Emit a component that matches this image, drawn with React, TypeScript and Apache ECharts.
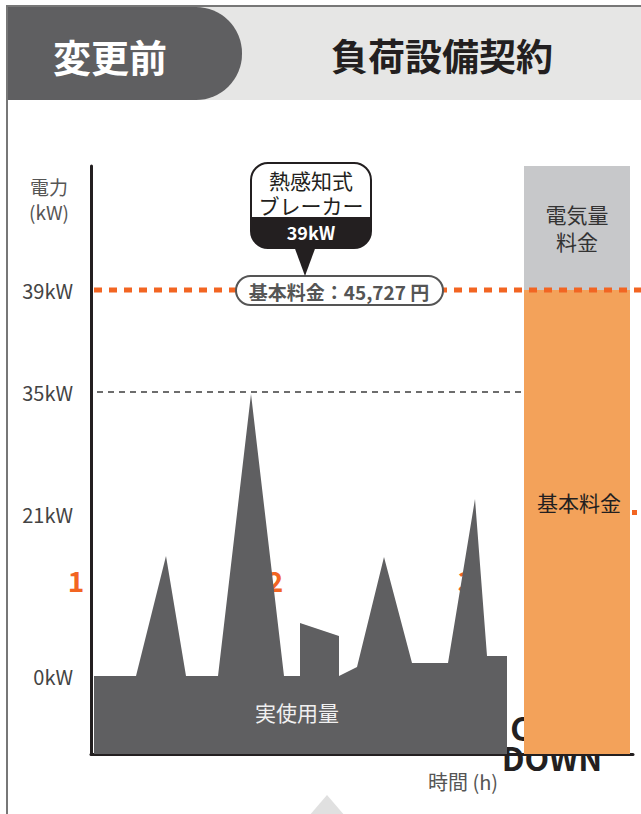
import React, { useEffect, useRef } from 'react';
import * as echarts from 'echarts';

// ---- data (chart units: x = time position, y = drawn power level) ----
const usageX = [3, 45, 75, 95, 127, 160, 193, 209, 209, 248, 248, 266, 293, 321, 357, 384, 396, 416];
const usageY = [78, 78, 198, 78, 78, 360, 78, 78, 131, 118, 78, 87, 197, 91, 91, 255, 98, 98];
const tickValues = [78, 240, 362, 464];
const tickLabels = ['0kW', '21kW', '35kW', '39kW'];
const barX = [486];
const basicChargeLevel = [464];
const energyChargeLevel = [124];
const peakLabels = ['1', '2', '3'];
const titleLeft = '変更前';
const titleRight = '負荷設備契約';
const breakerLines = ['熱感知式', 'ブレーカー'];
const breakerValue = '39kW';
const basicChargeText = '基本料金：45,727 円';

const FONT = '"Noto Sans CJK JP", "Open Sans", sans-serif';
const ORANGE = '#f26522';
const DARK = '#5f5f61';

export default function App() {
  const ref = useRef<HTMLDivElement>(null);
  useEffect(() => {
    const chart = echarts.init(ref.current!, null, { renderer: 'svg' });
    const labelMap: Record<number, string> = {};
    tickValues.forEach((v, i) => (labelMap[v] = tickLabels[i]));
    chart.setOption({
      animation: false,
      backgroundColor: '#ffffff',
      textStyle: { fontFamily: FONT },
      grid: { left: 91, top: 166, width: 542, height: 588, containLabel: false },
      xAxis: {
        type: 'value', min: 0, max: 542,
        axisLine: { show: true, lineStyle: { color: '#231f20', width: 3 } },
        axisTick: { show: false }, axisLabel: { show: false }, splitLine: { show: false },
      },
      yAxis: {
        type: 'value', min: 0, max: 588,
        axisLine: { show: true, lineStyle: { color: '#231f20', width: 3 } },
        axisTick: { show: false },
        splitLine: { show: false },
        axisLabel: {
          customValues: tickValues,
          formatter: (v: number) => labelMap[v] ?? '',
          color: '#444', fontSize: 20, margin: 18, fontFamily: FONT,
        },
      },
      series: [
        {
          type: 'line', name: '実使用量',
          data: usageX.map((x, i) => [x, usageY[i]]),
          symbol: 'none', lineStyle: { width: 0 },
          areaStyle: { color: DARK, opacity: 1 },
          z: 3,
        },
        {
          // energy charge sits on top of the basic charge: drawn as the total height
          type: 'bar', name: '電気量料金', barWidth: 106, barGap: '-100%',
          data: barX.map((x, i) => [x, basicChargeLevel[i] + energyChargeLevel[i]]),
          itemStyle: { color: '#c7c8ca' }, z: 3,
        },
        {
          type: 'bar', name: '基本料金', barWidth: 106, barGap: '-100%',
          data: barX.map((x, i) => [x, basicChargeLevel[i]]),
          itemStyle: { color: '#f3a25a' }, z: 4,
        },
      ],
    });

    const px = (x: number, y: number) => chart.convertToPixel({ gridIndex: 0 }, [x, y]) as number[];
    const y39 = px(0, tickValues[3])[1];
    const y35 = px(0, tickValues[2])[1];
    const barLeft = px(barX[0], 0)[0] - 53;

    const txt = (text: string, x: number, y: number, size: number, fill: string, weight = 'normal', z = 100, align = 'center', lineHeight?: number) => ({
      type: 'text', x, y, z,
      style: { text, fill, fontSize: size, fontWeight: weight, fontFamily: FONT, textAlign: align, textVerticalAlign: 'middle', lineHeight },
    });

    chart.setOption({
      graphic: {
        elements: [
          // header
          { type: 'rect', z: 90, shape: { x: 8, y: 7, width: 633, height: 93 }, style: { fill: '#e6e6e5' } },
          { type: 'rect', z: 91, shape: { x: 8, y: 7, width: 234, height: 93, r: [0, 46, 46, 0] }, style: { fill: DARK } },
          txt(titleLeft, 110, 55, 38, '#ffffff', 'bold', 92),
          txt(titleRight, 442, 55, 37, '#231f20', 'bold', 92),
          // frame
          { type: 'line', z: 95, shape: { x1: 6, y1: 6, x2: 641, y2: 6 }, style: { stroke: '#777', lineWidth: 2 } },
          { type: 'line', z: 95, shape: { x1: 7, y1: 6, x2: 7, y2: 814 }, style: { stroke: '#777', lineWidth: 2 } },
          // axis titles
          txt('電力\n(kW)', 49, 199, 19, '#555', 'normal', 100, 'center', 25),
          txt('時間 (h)', 463, 781, 20, '#555'),
          // hidden-behind decorations
          txt(peakLabels[0], 76, 580, 28, ORANGE, 'bold', 1),
          txt(peakLabels[1], 275, 580, 28, ORANGE, 'bold', 1),
          txt(peakLabels[2], 466, 580, 28, ORANGE, 'bold', 1),
          txt('COST\nDOWN', 552, 742, 32, '#231f20', 'bold', 1, 'center', 30),
          { type: 'rect', z: 1, shape: { x: 632, y: 510, width: 5, height: 5 }, style: { fill: ORANGE } },
          // 35kW dashed line
          { type: 'line', z: 1, shape: { x1: 97, y1: y35, x2: barLeft, y2: y35 }, style: { stroke: '#6d6d6d', lineWidth: 2, lineDash: [6, 5] } },
          // 39kW dotted line
          { type: 'line', z: 50, shape: { x1: 94, y1: y39, x2: 641, y2: y39 }, style: { stroke: ORANGE, lineWidth: 5, lineDash: [8, 7] } },
          // basic charge pill
          { type: 'rect', z: 60, shape: { x: 236, y: y39 - 14, width: 207, height: 29, r: 14.5 }, style: { fill: '#fff', stroke: '#555', lineWidth: 2 } },
          txt(basicChargeText, 339, y39 + 1, 19, '#555', 'bold', 61),
          // breaker callout
          { type: 'polygon', z: 60, shape: { points: [[294, 246], [316, 246], [305, 276]] }, style: { fill: '#231f20' } },
          { type: 'rect', z: 60, shape: { x: 251, y: 163, width: 120, height: 85, r: 17 }, style: { fill: '#fff', stroke: '#231f20', lineWidth: 2 } },
          { type: 'rect', z: 61, shape: { x: 251, y: 217, width: 120, height: 31, r: [0, 0, 17, 17] }, style: { fill: '#231f20' } },
          txt(breakerLines.join('\n'), 311, 192, 21, '#231f20', 'normal', 62, 'center', 25),
          txt(breakerValue, 311, 232, 18, '#ffffff', 'bold', 62),
          // labels on series
          txt('実使用量', 297, 712, 21, '#f0f0f0', 'normal', 70),
          txt('基本料金', 579, 502, 21, '#231f20', 'normal', 70),
          txt('電気量\n料金', 577, 227, 21, '#333', 'normal', 70, 'center', 27),
          // bottom pointer
          { type: 'polygon', z: 1, shape: { points: [[327, 795], [345, 816], [309, 816]] }, style: { fill: '#e0e0e0' } },
        ],
      },
    });
    return () => chart.dispose();
  }, []);
  return <div ref={ref} style={{ position: 'absolute', left: 0, top: 0, width: 641, height: 814, background: '#fff' }} />;
}
